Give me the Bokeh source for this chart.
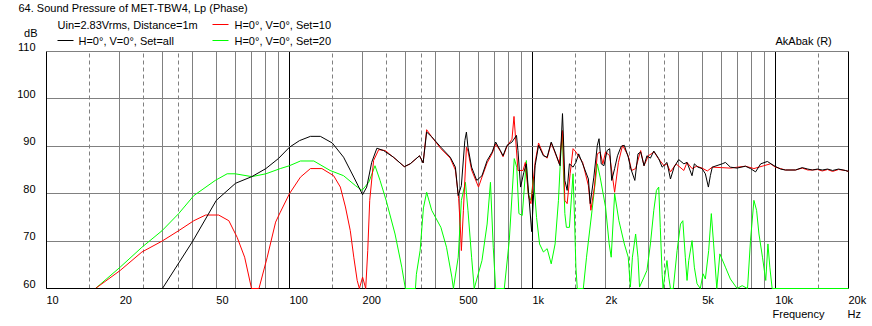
import math
from bokeh.plotting import figure
from bokeh.models import Range1d, FixedTicker, Grid, LinearAxis, LogAxis
from bokeh.core.properties import value
from bokeh.embed import file_html
from bokeh.resources import INLINE

# ---------------- data ----------------
freq_all = [10, 30, 40, 50, 60, 70, 80, 90, 100, 110, 122, 134, 150, 167, 184, 200, 208, 218, 229, 244,
            268, 297, 314, 343, 355, 367, 385, 420, 459, 482, 495, 510, 527, 535, 543, 562, 590, 620, 651,
            683, 706, 738, 757, 786, 824, 860, 872, 894, 922, 944, 965, 993, 1026, 1060, 1110, 1150, 1195,
            1240, 1300, 1330, 1340, 1360, 1390, 1420, 1470, 1510, 1550, 1610, 1700, 1730, 1790, 1850, 1880,
            1920, 1970, 2030, 2080, 2120, 2180, 2240, 2320, 2390, 2480, 2540, 2640, 2720, 2790, 2880, 2960,
            3060, 3160, 3310, 3420, 3580, 3700, 3830, 4000, 4200, 4330, 4540, 4640, 4800, 4990, 5150, 5300,
            5400, 5500, 6040, 6230, 6530, 6950, 7530, 7900, 8290, 8700, 9270, 9880, 10500, 11000, 12100,
            12900, 13600, 14200, 14900, 15600, 16400, 17200, 18200, 19400, 20000]
db_all = [60, 60, 70, 78.6, 82.2, 83.6, 85.3, 87.4, 89.8, 91.2, 92.1, 92.1, 90.7, 87.7, 83.5, 79.8, 81.4,
          86.6, 89.6, 89.1, 87.7, 85.7, 86.3, 88, 86.5, 93, 92, 89.8, 87.7, 85.6, 79.6, 81.7, 91.2, 93, 89.8,
          85.6, 82.8, 83.8, 87, 88.8, 90.9, 89.1, 88, 90.2, 90.9, 92.3, 89.1, 81.4, 84.5, 86.3, 80, 72, 85.9,
          90.2, 88, 87.7, 90.9, 88.8, 85.9, 96.9, 92.6, 82.8, 80.7, 86.3, 85.6, 86.6, 88.4, 86.3, 83.1, 77.9,
          83.5, 90.2, 91.6, 86.3, 85.9, 89.1, 89.5, 82.8, 85.3, 88, 90, 90.2, 87.7, 85.3, 82.8, 88.4, 88.8,
          85.9, 88, 87.5, 89, 87.4, 85.6, 86.6, 83.1, 85.6, 87.2, 86.3, 86.6, 83.8, 86.3, 85.6, 85.3, 84.2,
          81.4, 83.8, 85.6, 86.3, 86.6, 85.6, 85.4, 85.8, 85.3, 84.6, 86.3, 86.8, 85.9, 85.2, 85, 85, 85.5,
          85.2, 85, 85.2, 85, 85.2, 84.9, 85.2, 84.9, 84.7]

freq_set10 = [15.9, 20.1, 24.7, 29.9, 35, 40.4, 45.2, 51.1, 56.3, 60.9, 65.4, 69.8, 74.9, 81, 87.7, 91.7,
              100, 111, 122, 136, 152, 162, 170, 178, 184, 190, 194, 200, 206, 210, 214, 222, 233, 248, 272,
              297, 314, 343, 355, 367, 385, 420, 459, 482, 497, 505, 510, 520, 535, 543, 562, 600, 620, 651,
              683, 706, 738, 757, 786, 824, 840, 850, 872, 915, 935, 965, 986, 1026, 1060, 1110, 1150, 1195,
              1240, 1290, 1330, 1360, 1390, 1430, 1470, 1510, 1610, 1700, 1740, 1800, 1850, 1900, 1950, 2000,
              2080, 2180, 2260, 2350, 2480, 2560, 2660, 2790, 2880, 3000, 3170, 3300, 3480, 3580, 3700, 3900,
              4200, 4330, 4540, 4750, 4990, 5250, 5500, 6000, 6530, 7000, 7530, 8160, 8960, 9550, 10000, 10500,
              11000, 12100, 12900, 13600, 14200, 14900, 15600, 16400, 17200, 18200, 19400, 20000]
db_set10 = [60, 63.8, 67.7, 70, 72.2, 74.3, 75.5, 75.5, 74.3, 70.8, 66.6, 60, 60, 66.6, 74, 76.1, 80, 83.5,
            85.3, 85.3, 83.8, 81.4, 77.2, 72.2, 66.6, 61.7, 60, 62.4, 60, 68, 78.6, 87, 89.3, 89.1, 87.4,
            85.7, 86.3, 88, 86.5, 93.5, 92, 89.5, 87.5, 85, 79, 73, 68, 76.5, 89.8, 89, 85, 81.4, 83.5, 86.5,
            88.5, 90.5, 89, 87.8, 90, 91.5, 96.3, 92.6, 84.9, 84.9, 86.6, 79.3, 77.9, 86.6, 90.7, 88.2, 87.5,
            90.7, 88.6, 86.3, 93.3, 78.6, 77.9, 84.2, 89.5, 88.8, 86.6, 81.7, 76.5, 81.4, 88.4, 88.8, 86.3,
            88.8, 88, 80.3, 86.6, 90.2, 88, 84.9, 85.3, 89.1, 85.9, 88, 88.8, 87.4, 85.9, 86.3, 84.6, 86.3,
            84.9, 86.6, 85.3, 85.8, 85.4, 84.8, 85.6, 85.5, 85.4, 85.6, 85.8, 85.3, 85.9, 86.3, 85.6, 85.3,
            85, 85, 85.4, 85, 85, 85.1, 84.8, 85.1, 84.7, 85.1, 84.9, 84.7]

freq_set20 = [15.9, 20.1, 24.7, 29.9, 35, 40.4, 49.5, 55.4, 59.8, 70, 80, 91.7, 100, 111, 126, 147, 167, 187,
              199, 212, 225, 236, 250, 272, 290, 300, 330, 333, 345, 356, 367, 385, 420, 443, 466, 473, 495,
              510, 530, 543, 562, 576, 620, 651, 672, 690, 706, 766, 803, 842, 862, 880, 908, 944, 960, 986,
              1010, 1040, 1070, 1110, 1150, 1195, 1240, 1280, 1310, 1330, 1340, 1360, 1380, 1420, 1470, 1490,
              1510, 1530, 1620, 1670, 1760, 1850, 1900, 2000, 2070, 2110, 2180, 2270, 2390, 2480, 2530, 2580,
              2660, 2720, 2760, 2880, 2960, 3060, 3160, 3240, 3310, 3360, 3420, 3450, 3580, 3640, 3700, 3800,
              3940, 4070, 4160, 4260, 4330, 4400, 4540, 4640, 4760, 4910, 5040, 5150, 5315, 5450, 5570, 5740,
              5910, 6230, 6530, 6960, 7300, 7680, 7900, 8160, 8370, 8560, 8850, 9130, 9320, 9490, 9700, 20000]
db_set20 = [60, 64.5, 68.7, 72.2, 75.8, 79.6, 82.8, 84.2, 84.2, 83.6, 84.2, 85.3, 85.9, 86.9, 86.9, 84.9,
            83.8, 81.7, 80.7, 82.4, 85.9, 82.8, 78.6, 71.5, 64.5, 60, 60, 63, 68, 77, 80.3, 76.5, 72.9, 68.7,
            62.4, 60, 66.6, 78.6, 82.4, 76.5, 66.6, 60, 65.9, 73.6, 82.4, 68.7, 60, 60, 70.1, 87.4, 85.6,
            75.8, 75.4, 87, 80, 78.6, 83.5, 75, 69.4, 67.7, 68.4, 65.2, 69.4, 78.6, 89.1, 93.3, 85.6, 75.8,
            72.9, 72.9, 84.2, 75.1, 64.5, 60, 60, 66.6, 76.5, 86.3, 83.5, 77.2, 69.4, 66.6, 80, 74.3, 69.4,
            66.6, 60.3, 66.6, 71.5, 66.6, 60.3, 62.4, 63.8, 69.4, 76.5, 80.7, 81.4, 72.9, 63, 60, 65.9, 62.4,
            60, 60, 68, 73.6, 74.3, 66.6, 61.7, 65.9, 70.1, 64.5, 61, 60, 63.1, 62, 68, 75.8, 69.4, 60, 67.3,
            64.5, 62, 60, 60.6, 60, 70.1, 78.6, 76.5, 71.5, 66.6, 61.7, 69.4, 64.5, 60, 60]

x_tick_values = [10, 20, 50, 100, 200, 500, 1000, 2000, 5000, 10000, 20000]
x_tick_labels = ["10", "20", "50", "100", "200", "500", "1k", "2k", "5k", "10k", "20k"]
y_tick_values = [60, 70, 80, 90, 100, 110]
grid_solid = [20, 30, 40, 50, 60, 70, 80, 90, 200, 300, 400, 500, 600, 700, 800, 900,
              2000, 3000, 4000, 5000, 6000, 7000, 8000, 9000]
grid_dashed = [15, 25, 35, 150, 250, 350, 1500, 2500, 3500, 15000]
grid_black = [100, 1000, 10000]
grid_y = [70, 80, 90, 100]

# ---------------- layout ----------------
W, H = 872, 326
L, T = 46, 51
R, B = W - 848, H - 288
XMIN, XMAX, YMIN, YMAX = 10, 20000, 60, 110
FW, FH = W - L - R, H - T - B
PPD = FW / math.log10(XMAX / XMIN)

def px2f(fx):
    return XMIN * 10 ** ((fx - L) / PPD)

def px2db(fy):
    return YMAX - (fy - T) * (YMAX - YMIN) / FH

FONT = "Liberation Sans"
FS = "11px"
GRAY = "#808080"

p = figure(width=W, height=H, x_axis_type="log",
           x_range=Range1d(XMIN, XMAX), y_range=Range1d(YMIN, YMAX),
           output_backend="svg", toolbar_location=None,
           min_border_left=L, min_border_right=R, min_border_top=T, min_border_bottom=B)
p.outline_line_color = None
p.background_fill_color = "white"
p.border_fill_color = "white"
p.xgrid.visible = False
p.ygrid.visible = False

def style_axis(ax, color):
    ax.ticker = FixedTicker(ticks=[])
    ax.axis_line_color = color
    ax.axis_line_width = 1
    ax.major_tick_line_color = None
    ax.minor_tick_line_color = None
    ax.major_label_text_font_size = "0px"

style_axis(p.xaxis[0], "black")
style_axis(p.yaxis[0], "black")
ax_r = LinearAxis()
style_axis(ax_r, "black")
p.add_layout(ax_r, "right")
ax_t = LogAxis()
style_axis(ax_t, GRAY)
p.add_layout(ax_t, "above")

p.add_layout(Grid(dimension=0, ticker=FixedTicker(ticks=grid_solid), grid_line_color=GRAY))
p.add_layout(Grid(dimension=0, ticker=FixedTicker(ticks=grid_dashed), grid_line_color=GRAY,
                  grid_line_dash="4 3"))
p.add_layout(Grid(dimension=0, ticker=FixedTicker(ticks=grid_black), grid_line_color="black"))
p.add_layout(Grid(dimension=1, ticker=FixedTicker(ticks=grid_y), grid_line_color=GRAY))

# curves
p.line(freq_set20, db_set20, line_color="#00ff00", line_width=1, level="overlay")
p.line(freq_set10, db_set10, line_color="#ff0000", line_width=1, level="overlay")
p.line(freq_all, db_all, line_color="black", line_width=1, level="overlay")

def txt(xs, ys, texts, align="left", xo=0, yo=0):
    p.text(x=xs, y=ys, text=texts, x_offset=xo, y_offset=yo,
           text_font=value(FONT), text_font_size=value(FS), text_color="black",
           text_align=align, text_baseline="middle", level="overlay")

def txt_px(s, fx, fy, align="left"):
    txt([px2f(fx)], [px2db(fy)], [s], align)

# header texts
txt_px("64. Sound Pressure of MET-TBW4, Lp (Phase)", 18, 7)
txt_px("Uin=2.83Vrms, Distance=1m", 57, 24)
txt_px("H=0°, V=0°, Set=all", 78, 40)
txt_px("H=0°, V=0°, Set=10", 234, 24)
txt_px("H=0°, V=0°, Set=20", 234, 40)
txt_px("AkAbak (R)", 775, 40)
txt_px("dB", 37, 32, "right")

# legend sample lines
p.line([px2f(57), px2f(73)], [px2db(40), px2db(40)], line_color="black", level="overlay")
p.line([px2f(212), px2f(228)], [px2db(24), px2db(24)], line_color="#ff0000", level="overlay")
p.line([px2f(212), px2f(228)], [px2db(40), px2db(40)], line_color="#00ff00", level="overlay")

# tick labels
txt([XMIN] * len(y_tick_values), y_tick_values, [str(v) for v in y_tick_values], "right", -11, -5)
txt(x_tick_values, [YMIN] * len(x_tick_values), x_tick_labels, "left", 0, 11)
txt_px("Frequency", 772, 313)
txt_px("Hz", 847, 313)

open("out.html", "w").write(file_html(p, INLINE))
